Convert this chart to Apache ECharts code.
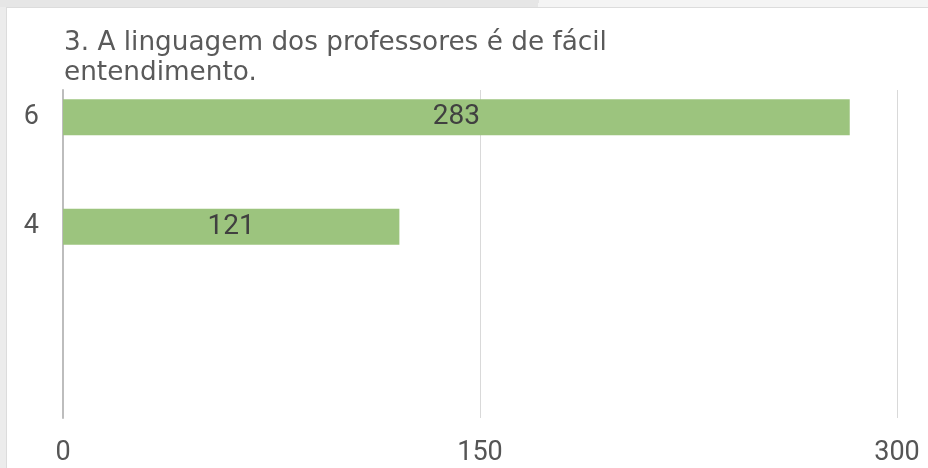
<!DOCTYPE html>
<html lang="pt">
<head>
    <meta charset="utf-8">
    <title>A linguagem dos professores</title>
    <script src="https://cdn.jsdelivr.net/npm/echarts@6/dist/echarts.min.js"></script>
    <style>
        body { margin: 0; background: #ececec; }
        #topo { position: absolute; left: 0; top: 0; width: 928px; height: 7px;
                background: linear-gradient(100deg, #e6e6e6 58%, #f4f4f4 58%); }
        #main { position: absolute; left: 6px; top: 7px; width: 922px; height: 461px;
                background: #fff; border-left: 1px solid #dcdcdc; border-top: 1px solid #dcdcdc;
                box-sizing: border-box; }
    </style>
</head>
<body>
<div id="topo"></div>
<div id="main"></div>

<script type="text/javascript">
    // categorias de cima para baixo (as vazias não têm resposta)
    var categorias = ['6', '', '4', '', '', ''];
    var respostas = [283, null, 121, null, null, null];
    var ticks = [0, 150, 300];

    var myChart = echarts.init(document.getElementById('main'));

    myChart.setOption({
        animation: false,
        title: {
            text: '3. A linguagem dos professores é de fácil\nentendimento.',
            left: 57,
            top: 20,
            padding: 0,
            textStyle: {
                fontFamily: 'DejaVu Sans',
                fontSize: 26.3,
                fontWeight: 'normal',
                color: '#5a5a5a',
                lineHeight: 30
            }
        },
        grid: { left: 56, right: 31, top: 82, bottom: 50 },
        xAxis: {
            type: 'value',
            min: ticks[0],
            max: ticks[ticks.length - 1],
            interval: ticks[1] - ticks[0],
            axisLine: { show: false },
            axisTick: { show: false },
            splitLine: { lineStyle: { color: '#d9d9d9', width: 1 } },
            axisLabel: {
                fontFamily: 'Roboto',
                fontSize: 27,
                color: '#555',
                margin: 22
            }
        },
        yAxis: {
            type: 'category',
            inverse: true,
            data: categorias,
            axisLine: { show: true, lineStyle: { color: '#bdbdbd', width: 2 } },
            axisTick: { show: false },
            axisLabel: {
                fontFamily: 'Roboto',
                fontSize: 27,
                color: '#555',
                margin: 24
            }
        },
        series: [{
            type: 'bar',
            data: respostas,
            barWidth: 36,
            itemStyle: { color: '#9cc47e' },
            label: {
                show: true,
                position: 'inside',
                fontFamily: 'Roboto',
                fontSize: 28,
                color: '#404040'
            }
        }]
    });
</script>
</body>
</html>
